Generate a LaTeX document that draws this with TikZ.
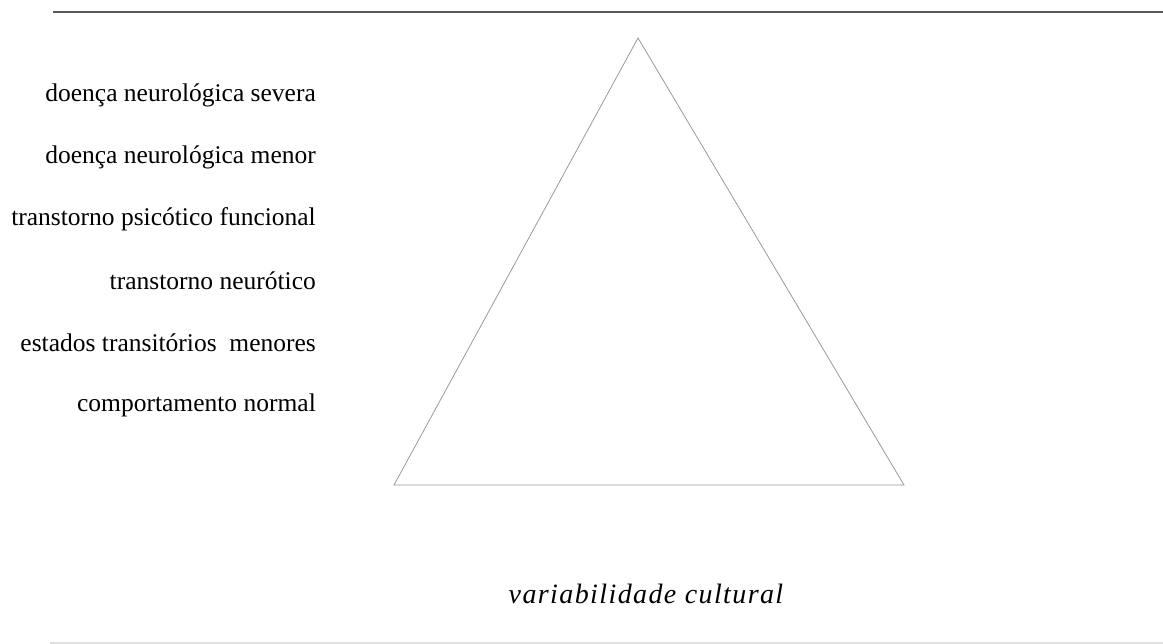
\documentclass[tikz,border=0pt]{standalone}
\usepackage{fontspec}
\setmainfont{Liberation Serif}
\newfontfamily\vcfont[LetterSpace=5]{Liberation Serif}
\begin{document}
\begin{tikzpicture}[x=1pt,y=-1pt,
  lbl/.style={anchor=east,inner sep=0pt,font=\fontsize{25.5}{28}\selectfont},
  rule/.style={line width=1.4pt,draw=black!65},
  tri/.style={line width=0.8pt,draw=black!40}]
\useasboundingbox (0,0) rectangle (1163,644);
\coordinate (tl) at (53,12);
\coordinate (tr) at (1163,12);
\draw[rule] (tl) -- (tr);
\coordinate (bl) at (50,643);
\coordinate (br) at (1163,643);
\draw[line width=1.2pt,draw=black!12] (bl) -- (br);
\coordinate (apex) at (638,38);
\coordinate (left) at (394,485);
\coordinate (right) at (904,485);
\draw[tri,line join=miter] (apex) -- (left) -- (right) -- cycle;
\node[lbl] (l1) at (316,95) {doença neurológica severa};
\node[lbl] (l2) at (316,157) {doença neurológica menor};
\node[lbl] (l3) at (316,219) {transtorno psicótico funcional};
\node[lbl] (l4) at (316,281) {transtorno neurótico};
\node[lbl] (l5) at (316,343) {estados transitórios\ \ menores};
\node[lbl] (l6) at (316,405) {comportamento normal};
\node[inner sep=0pt,font=\vcfont\fontsize{28}{30}\selectfont\itshape] (vc) at (646,594) {variabilidade cultural};
\end{tikzpicture}
\end{document}
